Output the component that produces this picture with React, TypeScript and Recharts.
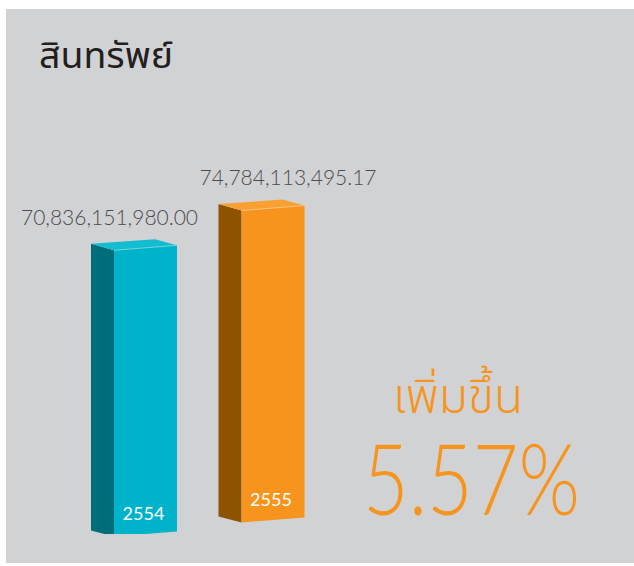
import { BarChart, Bar, XAxis, YAxis, LabelList } from "recharts";

// values
const years = ["2554", "2555"];
const assets = [70836151980.0, 74784113495.17];
const growthPct = "5.57";

const TITLE = "สินทรัพย์";
const GROWTH_LABEL = "เพิ่มขึ้น";

const data = years.map((year, i) => ({ year, value: assets[i] }));

const palettes = [
  { front: "#00b3ca", side: "#006d7b", top: "#13bccf", edge: "#6ad3df" },
  { front: "#f7941d", side: "#8d5300", top: "#f9a033", edge: "#fcc27a" },
];
// the second box sits a bit higher (perspective in the original artwork)
const lift = [0, 14];
const labelDx = [-36, 15];
const DEPTH = 23;

const LIGHT_FONT = "'Lato', 'Open Sans', 'Noto Sans', sans-serif";
const THAI_FONT = "'Noto Sans Thai', 'Noto Sans', 'DejaVu Sans', sans-serif";

const fmt = (v: number) =>
  v.toLocaleString("en-US", { minimumFractionDigits: 2, maximumFractionDigits: 2 });

function Box3D(props: any) {
  const { x, y, width: w, height: h, index, payload } = props;
  const p = palettes[index];
  const y0 = y - lift[index];
  const yb = y + h - lift[index];
  return (
    <g>
      <polygon
        points={`${x - DEPTH},${y0 - 4} ${x},${y0 + 2.5} ${x},${yb + 2.5} ${x - DEPTH},${yb - 3.5}`}
        fill={p.side}
      />
      <polygon
        points={`${x - DEPTH},${y0 - 4} ${x + w - 22},${y0 - 8.5} ${x + w},${y0 - 2.5} ${x},${y0 + 2.5}`}
        fill={p.top}
      />
      <polygon
        points={`${x},${y0 + 2.5} ${x + w},${y0 - 2.5} ${x + w},${yb - 2.5} ${x},${yb + 2.5}`}
        fill={p.front}
      />
      <line x1={x} y1={y0 + 2.5} x2={x + w} y2={y0 - 2.5} stroke={p.edge} strokeWidth={1} />
      <text
        x={x + w / 2 - 2}
        y={yb - 14.5}
        textAnchor="middle"
        fill="#ffffff"
        fontSize={18}
        fontFamily={LIGHT_FONT}
      >
        {payload.year}
      </text>
    </g>
  );
}

function ValueLabel(props: any) {
  const { x, y, width, value, index } = props;
  return (
    <text
      x={x + width / 2 + labelDx[index]}
      y={y - lift[index] - 23}
      textAnchor="middle"
      fill="#4d4d4f"
      fontSize={21}
      fontWeight={300}
      fontFamily={LIGHT_FONT}
    >
      {fmt(value)}
    </text>
  );
}

export default function App() {
  return (
    <div style={{ position: "absolute", left: 0, top: 0, width: 634, height: 566, background: "#fff" }}>
      <div
        style={{ position: "absolute", left: 6, top: 9, width: 628, height: 554, background: "#d1d2d4" }}
      />
      <div style={{ position: "absolute", left: 0, top: 0 }}>
        <BarChart
          width={634}
          height={566}
          data={data}
          margin={{ top: 188, right: 297, bottom: 32, left: 82 }}
        >
          <XAxis dataKey="year" hide />
          <YAxis hide domain={[27e9, 80e9]} allowDataOverflow />
          <Bar dataKey="value" barSize={63} shape={<Box3D />} isAnimationActive={false}>
            <LabelList dataKey="value" content={<ValueLabel />} />
          </Bar>
        </BarChart>
      </div>
      <svg
        width={634}
        height={566}
        style={{ position: "absolute", left: 0, top: 0, pointerEvents: "none" }}
      >
        <text
          x={39}
          y={68}
          fontSize={36}
          fill="#231f20"
          fontFamily={THAI_FONT}
          textLength={134}
          lengthAdjust="spacingAndGlyphs"
        >
          {TITLE}
        </text>
        <text x={393} y={413} fontSize={48} fill="#f7941d" fontWeight={300} fontFamily={THAI_FONT}>
          {GROWTH_LABEL}
        </text>
        <text
          x={363}
          y={515}
          fontSize={98}
          fill="#f7941d"
          fontWeight={300}
          fontFamily={LIGHT_FONT}
          textLength={217}
          lengthAdjust="spacingAndGlyphs"
        >
          {growthPct}%
        </text>
      </svg>
    </div>
  );
}
